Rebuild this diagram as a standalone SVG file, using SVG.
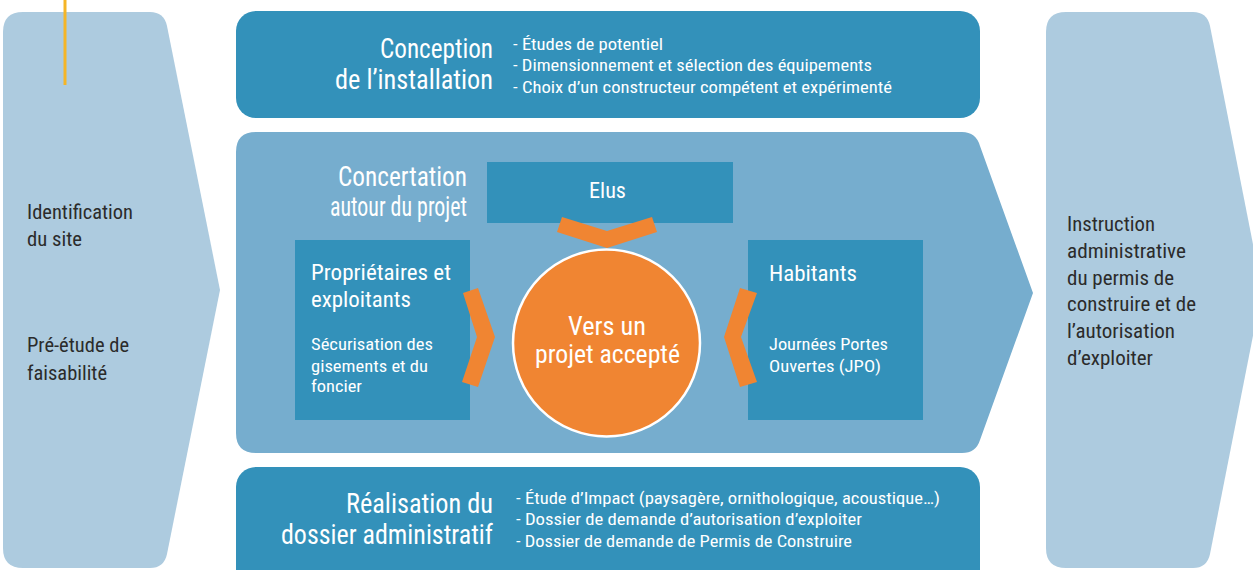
<svg xmlns="http://www.w3.org/2000/svg" width="1253" height="570" viewBox="0 0 1253 570">
<style>
text{font-family:"Liberation Sans Narrow","Roboto Condensed","DejaVu Sans Condensed","Liberation Sans",sans-serif;}
.w{fill:#ffffff;}
.d{fill:#2b2b2b;font-size:20px;}
.t{font-size:27px;}
.s{font-size:17px;}
.h{font-size:22px;}
.c{font-size:26px;}
.dark{fill:#3391ba;}
.orange{fill:#f08532;}
</style>
<rect width="1253" height="570" fill="#ffffff"/>
<g id="identification">
<path d="M3,32 Q3,12 23,12 L150,12 Q164,12 167,26 L220,290 L167,554 Q164,568 150,568 L23,568 Q3,568 3,548 Z" fill="#adcbdf"/>
<text class="d" x="27" y="219" textLength="106" lengthAdjust="spacingAndGlyphs">Identification</text>
<text class="d" x="27" y="246" textLength="55" lengthAdjust="spacingAndGlyphs">du site</text>
<text class="d" x="27" y="352" textLength="102" lengthAdjust="spacingAndGlyphs">Pré-étude de</text>
<text class="d" x="27" y="380" textLength="80" lengthAdjust="spacingAndGlyphs">faisabilité</text>
</g>
<line x1="65" y1="0" x2="65" y2="85" stroke="#f5b526" stroke-width="3"/>
<g id="instruction">
<path d="M1046,32 Q1046,12 1066,12 L1193,12 Q1207,12 1210,26 L1262,290 L1210,554 Q1207,568 1193,568 L1066,568 Q1046,568 1046,548 Z" fill="#adcbdf"/>
<text class="d" x="1067" y="231" textLength="88" lengthAdjust="spacingAndGlyphs">Instruction</text>
<text class="d" x="1067" y="258" textLength="119" lengthAdjust="spacingAndGlyphs">administrative</text>
<text class="d" x="1067" y="285" textLength="107" lengthAdjust="spacingAndGlyphs">du permis de</text>
<text class="d" x="1067" y="311" textLength="129" lengthAdjust="spacingAndGlyphs">construire et de</text>
<text class="d" x="1067" y="338" textLength="108" lengthAdjust="spacingAndGlyphs">l’autorisation</text>
<text class="d" x="1067" y="365" textLength="86" lengthAdjust="spacingAndGlyphs">d’exploiter</text>
</g>
<g id="conception">
<rect x="236" y="11" width="744" height="107" rx="20" class="dark"/>
<text class="w t" x="380" y="58" textLength="113" lengthAdjust="spacingAndGlyphs">Conception</text>
<text class="w t" x="335" y="89" textLength="158" lengthAdjust="spacingAndGlyphs">de l’installation</text>
<text class="w s" x="513" y="50" textLength="150" lengthAdjust="spacingAndGlyphs">- Études de potentiel</text>
<text class="w s" x="513" y="71" textLength="359" lengthAdjust="spacingAndGlyphs">- Dimensionnement et sélection des équipements</text>
<text class="w s" x="513" y="93" textLength="379" lengthAdjust="spacingAndGlyphs">- Choix d’un constructeur compétent et expérimenté</text>
</g>
<g id="concertation">
<path d="M236,152 Q236,132 256,132 L962,132 Q976,132 980,146 L1033,293 L980,440 Q976,453 962,453 L256,453 Q236,453 236,433 Z" fill="#76adce"/>
<text class="w t" x="338" y="186" textLength="129" lengthAdjust="spacingAndGlyphs">Concertation</text>
<text class="w t" x="330" y="216" textLength="137" lengthAdjust="spacingAndGlyphs">autour du projet</text>
</g>
<g id="elus">
<rect x="487" y="162" width="246" height="61" class="dark"/>
<text class="w h" x="589" y="198" textLength="37" lengthAdjust="spacingAndGlyphs">Elus</text>
</g>
<g id="proprietaires">
<rect x="295" y="240" width="175" height="180" class="dark"/>
<text class="w h" x="311" y="280" textLength="140" lengthAdjust="spacingAndGlyphs">Propriétaires et</text>
<text class="w h" x="311" y="307" textLength="100" lengthAdjust="spacingAndGlyphs">exploitants</text>
<text class="w s" x="311" y="350" textLength="122" lengthAdjust="spacingAndGlyphs">Sécurisation des</text>
<text class="w s" x="311" y="372" textLength="117" lengthAdjust="spacingAndGlyphs">gisements et du</text>
<text class="w s" x="311" y="392" textLength="51" lengthAdjust="spacingAndGlyphs">foncier</text>
</g>
<g id="habitants">
<rect x="748" y="240" width="175" height="180" class="dark"/>
<text class="w h" x="769" y="281" textLength="88" lengthAdjust="spacingAndGlyphs">Habitants</text>
<text class="w s" x="769" y="350" textLength="119" lengthAdjust="spacingAndGlyphs">Journées Portes</text>
<text class="w s" x="769" y="372" textLength="112" lengthAdjust="spacingAndGlyphs">Ouvertes (JPO)</text>
</g>
<g id="connectors">
<polygon class="orange" points="562,217 607,231 652,217 657,232 607,248 557,232"/>
<polygon class="orange" points="463,293 478,288 495,337 478,387 462,382 477,337"/>
<polygon class="orange" points="740,288 757,293 741,337 757,382 740,387 724,337"/>
</g>
<g id="projet-accepte">
<circle cx="606.5" cy="343" r="93.5" class="orange" stroke="#ffffff" stroke-width="2.5"/>
<text class="w c" x="568" y="335" textLength="78" lengthAdjust="spacingAndGlyphs">Vers un</text>
<text class="w c" x="535" y="363" textLength="145" lengthAdjust="spacingAndGlyphs">projet accepté</text>
</g>
<g id="realisation">
<rect x="236" y="467" width="744" height="125" rx="20" class="dark"/>
<text class="w t" x="346" y="513" textLength="147" lengthAdjust="spacingAndGlyphs">Réalisation du</text>
<text class="w t" x="281" y="544" textLength="212" lengthAdjust="spacingAndGlyphs">dossier administratif</text>
<text class="w s" x="516" y="504" textLength="424" lengthAdjust="spacingAndGlyphs">- Étude d’Impact (paysagère, ornithologique, acoustique…)</text>
<text class="w s" x="516" y="525" textLength="346" lengthAdjust="spacingAndGlyphs">- Dossier de demande d’autorisation d’exploiter</text>
<text class="w s" x="516" y="547" textLength="336" lengthAdjust="spacingAndGlyphs">- Dossier de demande de Permis de Construire</text>
</g>
</svg>
